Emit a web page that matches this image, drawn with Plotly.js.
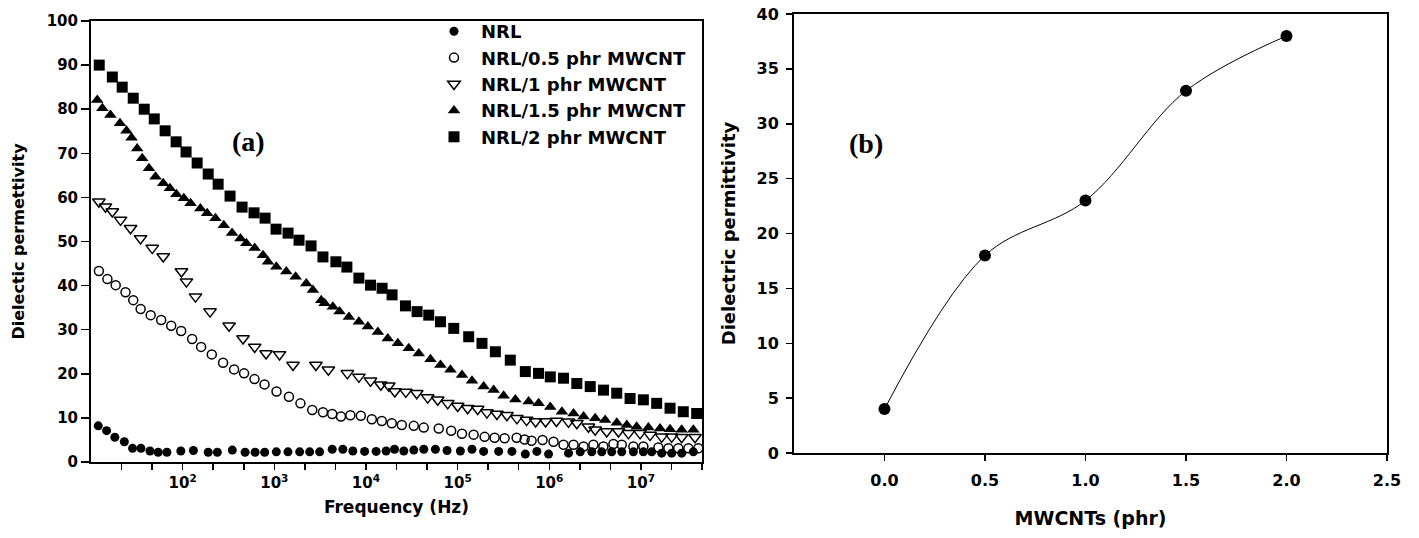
<!DOCTYPE html>
<html>
<head>
<meta charset="utf-8">
<script src="https://cdn.plot.ly/plotly-3.0.1.min.js"></script>
<style>html,body{margin:0;padding:0;background:#fff;}#chart{width:1419px;height:538px;}</style>
</head>
<body>
<div id="chart"></div>
<script>
// ---------- Panel (a): dielectric permittivity vs frequency ----------
const freqNRL = [12.0,14.8,18.2,23.1,28.4,35.1,44.0,54.1,67.3,95.5,131,190,239,348,480,617,785,1052,1409,1892,2432,3126,4285,5598,7194,9661,12910,16600,20510,25880,33270,42760,57280,76740,107200,143600,192300,280500,391700,548300,732800,982300,1622000,2178000,2911000,3741000,4808000,6180000,8279000,10640000,13120000,16870000,21680000,27860000,37330000];
const permNRL = [8.2,7.1,5.6,4.6,3.1,3.1,2.5,2.2,2.2,2.5,2.6,2.2,2.2,2.7,2.2,2.2,2.2,2.3,2.3,2.3,2.3,2.3,2.9,2.9,2.5,2.4,2.4,2.5,2.9,2.5,2.7,2.9,2.9,2.6,2.5,2.9,2.4,2.4,2.4,1.8,2.4,1.8,2.0,2.3,2.3,2.3,2.3,2.3,2.3,2.3,2.3,2.0,2.0,2.0,2.3];

const freq05 = [12.2,15.1,18.6,23.8,28.9,34.8,44.8,58.3,75.0,96.4,127,159,208,276,364,468,608,782,1057,1445,1928,2594,3396,4285,5333,6761,8790,11590,14890,19140,24600,33270,42760,62230,85110,111700,149600,197200,253500,325800,440600,538300,641200,845300,1114000,1432000,1841000,2366000,3034000,3899000,5012000,6180000,8279000,10640000,15520000,19950000,25590000,32960000,42270000];
const perm05 = [43.3,41.5,40.1,38.5,36.7,34.7,33.3,32.2,30.9,29.7,27.9,26.1,24.4,22.5,21.0,20.1,18.8,17.6,16.0,14.8,13.3,11.8,11.3,10.9,10.3,10.6,10.5,9.7,9.3,8.8,8.4,8.2,7.8,7.6,7.1,6.4,6.2,5.7,5.5,5.4,5.5,5.1,4.8,5.0,4.6,3.9,3.9,3.5,3.9,3.5,4.1,3.9,3.5,3.5,3.3,3.1,3.1,3.1,3.1];

const freq1 = [12.2,14.4,17.1,21.0,27.0,34.7,46.6,61.4,97.0,110,138,199,321,456,611,813,1140,1600,2844,3890,6266,8375,11220,14520,17740,20650,27230,35810,47210,60670,77980,100200,128800,165600,208900,268500,345100,443600,566200,709600,912000,1199000,1622000,2000000,2679000,3170000,4236000,5689000,7311000,9795000,12590000,16870000,21680000,27860000,38900000];
const perm1 = [59.0,57.9,56.8,54.9,53.0,50.7,48.5,46.6,43.2,40.9,37.5,34.1,30.9,28.0,26.1,24.6,24.4,22.0,22.0,20.9,20.1,19.3,18.4,17.5,17.3,16.0,15.9,15.6,14.6,14.1,13.3,12.7,12.2,12.0,11.2,10.9,10.6,9.9,9.5,9.2,9.2,9.3,9.1,8.8,8.0,7.3,6.9,6.9,6.5,6.5,6.1,5.7,5.7,5.6,5.6];

const freq15 = [11.7,13.3,16.3,20.7,24.4,27.7,31.9,36.2,42.9,50.6,61.4,72.6,85.5,103,122,156,185,228,281,346,427,495,611,753,853,1052,1352,1710,2234,2636,3251,3540,4355,5152,6516,8375,10500,13490,17300,22280,29310,37670,50580,65010,83560,111700,143600,192300,247200,317700,426600,595700,765600,1026000,1374000,1841000,2366000,3170000,4074000,5458000,7015000,8995000,12080000,16180000,20800000,27800000,37330000];
const perm15 = [82.1,80.2,78.7,76.8,75.1,73.5,71.1,68.9,66.6,64.7,63.2,62.1,60.7,59.8,58.7,57.5,56.4,55.3,53.7,51.9,50.7,49.6,48.5,46.9,45.4,44.3,43.2,42.0,40.5,39.0,36.7,36.0,35.2,34.1,32.9,31.8,30.7,29.5,28.0,26.9,25.8,24.6,23.3,22.0,20.9,19.7,18.4,17.1,16.3,15.0,14.2,13.7,13.3,12.5,11.4,11.0,10.3,9.9,9.5,8.9,8.4,8.0,7.8,7.6,7.4,7.3,7.3];

const freq2 = [12.3,17.1,21.9,28.9,38.1,49.0,64.4,84.9,109,144,190,244,329,445,601,793,1045,1413,1862,2518,3396,4699,6194,8375,11220,15000,19280,26980,36140,48420,65010,90780,132100,184500,258200,375800,548300,763800,1026000,1432000,2000000,2800000,3910000,5450000,7620000,10640000,14860000,20800000,29000000,40600000];
const perm2 = [90.0,87.3,85.0,82.5,80.0,77.8,75.1,72.6,70.3,67.8,65.3,63.0,60.3,57.8,56.5,55.3,52.8,51.9,50.3,49.0,46.5,45.4,44.2,41.7,40.1,39.4,37.9,35.4,34.1,33.3,31.8,30.3,28.4,26.9,25.0,23.1,20.5,20.1,19.3,19.0,17.8,17.1,16.3,15.6,14.4,14.1,13.3,12.2,11.4,11.0];

const seriesNames = ['NRL','NRL/0.5 phr MWCNT','NRL/1 phr MWCNT','NRL/1.5 phr MWCNT','NRL/2 phr MWCNT'];

// frequency axis tick labels (decades)
const decadeExps = [2,3,4,5,6,7];
const decadeLabels = ['10<sup>2</sup>','10<sup>3</sup>','10<sup>4</sup>','10<sup>5</sup>','10<sup>6</sup>','10<sup>7</sup>'];

// ---------- Panel (b): permittivity vs MWCNT loading ----------
const mwcnt = [0.0, 0.5, 1.0, 1.5, 2.0];
const permB = [4, 18, 23, 33, 38];

// ---------- build ----------
const majorVals = decadeExps.map(e => Math.pow(10, e));
const minorVals = [];
for (let e = 1; e <= 7; e++) {
  minorVals.push(Math.pow(10, e + 1/3), Math.pow(10, e + 2/3));
}

const traces = [
  {x: freqNRL, y: permNRL, name: seriesNames[0], mode: 'markers', type: 'scatter',
   marker: {symbol: 'circle', size: 9, color: '#000'}},
  {x: freq05, y: perm05, name: seriesNames[1], mode: 'markers', type: 'scatter',
   marker: {symbol: 'circle-open', size: 9, color: '#000', line: {width: 1.5, color: '#000'}}},
  {x: freq1, y: perm1, name: seriesNames[2], mode: 'markers', type: 'scatter',
   marker: {symbol: 'triangle-down-open', size: 11, color: '#000', line: {width: 1.5, color: '#000'}}},
  {x: freq15, y: perm15, name: seriesNames[3], mode: 'markers', type: 'scatter',
   marker: {symbol: 'triangle-up', size: 11, color: '#000'}},
  {x: freq2, y: perm2, name: seriesNames[4], mode: 'markers', type: 'scatter',
   marker: {symbol: 'square', size: 11, color: '#000'}},
  {x: mwcnt, y: permB, xaxis: 'x2', yaxis: 'y2', mode: 'lines+markers', type: 'scatter',
   showlegend: false, line: {shape: 'spline', smoothing: 1, color: '#000', width: 1},
   marker: {symbol: 'circle', size: 12, color: '#000'}}
];

const F = 'DejaVu Sans, Verdana, sans-serif';
const SERIF = 'Liberation Serif, Times New Roman, serif';
const layout = {
  width: 1419, height: 538,
  margin: {l: 0, r: 0, t: 0, b: 0},
  paper_bgcolor: '#fff', plot_bgcolor: '#fff',
  font: {family: F, color: '#000', size: 15, weight: 'bold'},
  showlegend: true,
  legend: {x: 427/1419, y: 1 - 13/538, xanchor: 'left', yanchor: 'top',
    itemwidth: 44,
    font: {family: F, size: 18, weight: 'bold', color: '#000'},
    bgcolor: 'rgba(0,0,0,0)', borderwidth: 0, tracegroupgap: 0},
  xaxis: {type: 'log', domain: [91/1419, 702/1419], range: [1, 7 + 2/3],
    tickmode: 'array', tickvals: majorVals, ticktext: decadeLabels,
    ticks: 'outside', ticklen: 6, tickwidth: 1.5, tickcolor: '#000',
    minor: {tickmode: 'array', tickvals: minorVals, ticks: 'outside', ticklen: 6, tickwidth: 1.5, tickcolor: '#000', showgrid: false},
    showline: true, linewidth: 2, linecolor: '#000', mirror: true,
    showgrid: false, zeroline: false, anchor: 'y',
    tickfont: {family: F, size: 15, weight: 'bold'},
    title: {text: 'Frequency (Hz)', font: {family: F, size: 17, weight: 'bold'}, standoff: 10}},
  yaxis: {domain: [1 - 462/538, 1 - 21/538], range: [0, 100], dtick: 10,
    ticks: 'outside', ticklen: 8, tickwidth: 1.5, tickcolor: '#000',
    showline: true, linewidth: 2, linecolor: '#000', mirror: true,
    showgrid: false, zeroline: false, anchor: 'x',
    tickfont: {family: F, size: 15, weight: 'bold'},
    title: {text: 'Dielectic permettivity', font: {family: F, size: 16, weight: 'bold'}, standoff: 18}},
  xaxis2: {domain: [794/1419, 1387/1419], range: [-0.45, 2.5], dtick: 0.5, tick0: 0, tickformat: '.1f',
    ticks: 'outside', ticklen: 6, tickwidth: 1.5, tickcolor: '#000',
    showline: true, linewidth: 2, linecolor: '#000', mirror: true,
    showgrid: false, zeroline: false, anchor: 'y2', ticklabelstandoff: 6,
    tickfont: {family: F, size: 16, weight: 'bold'},
    title: {text: 'MWCNTs (phr)', font: {family: F, size: 19, weight: 'bold'}, standoff: 22}},
  yaxis2: {domain: [1 - 453/538, 1 - 14/538], range: [0, 40], dtick: 5,
    ticks: 'outside', ticklen: 6, tickwidth: 1.5, tickcolor: '#000',
    showline: true, linewidth: 2, linecolor: '#000', mirror: true,
    showgrid: false, zeroline: false, anchor: 'x2', ticklabelstandoff: 4,
    tickfont: {family: F, size: 16, weight: 'bold'},
    title: {text: 'Dielectric permittivity', font: {family: F, size: 18, weight: 'bold'}, standoff: 16}},
  annotations: [
    {text: '(a)', xref: 'paper', yref: 'paper', x: 248/1419, y: 1 - 141/538, showarrow: false,
     xanchor: 'center', yanchor: 'middle',
     font: {family: SERIF, size: 28, weight: 'bold', color: '#000'}},
    {text: '(b)', xref: 'paper', yref: 'paper', x: 866/1419, y: 1 - 143/538, showarrow: false,
     xanchor: 'center', yanchor: 'middle',
     font: {family: SERIF, size: 28, weight: 'bold', color: '#000'}}
  ]
};

Plotly.newPlot('chart', traces, layout, {displayModeBar: false, staticPlot: true});
</script>
</body>
</html>
